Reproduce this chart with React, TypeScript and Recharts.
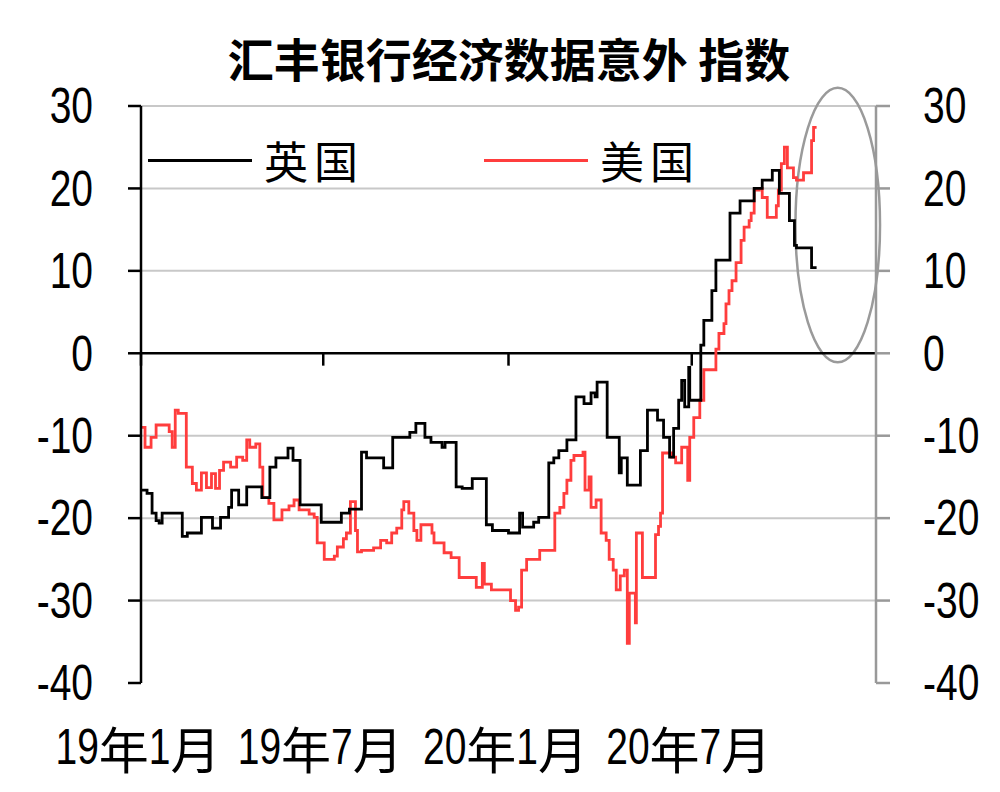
import { LineChart, Line, XAxis, YAxis, CartesianGrid, ReferenceLine, ReferenceArea } from "recharts";

// x values are days counted from 2019-01-01
const tickDays = [0, 181, 365, 547];
const tickLabels = ["19年1月", "19年7月", "20年1月", "20年7月"];
const yTicks = [30, 20, 10, 0, -10, -20, -30, -40];
const gridValues = [30, 20, 10, -10, -20, -30];
const seriesNames = ["英国", "美国"];
const seriesColors = ["#000000", "#ff3d3d"];

// [day, index value], step changes
const ukSteps: [number, number][] = [
  [1, -16.6], [6, -17.0], [11, -19.4], [15, -20.3], [18, -20.6], [21, -19.4], [41, -22.2], [46, -21.8],
  [60, -19.9], [71, -21.2], [79, -19.9], [87, -18.7], [90, -16.6], [97, -18.4], [105, -16.2], [120, -17.5],
  [128, -13.8], [134, -12.7], [146, -11.5], [151, -13.0], [158, -18.4], [179, -20.5], [199, -19.4], [207, -18.9],
  [219, -12.0], [224, -12.7], [241, -13.9], [250, -10.2], [267, -9.6], [273, -8.5], [282, -10.2], [288, -10.8],
  [299, -11.4], [302, -10.8], [313, -16.2], [319, -16.4], [329, -15.2], [343, -20.8], [349, -21.5], [365, -21.8],
  [376, -19.4], [379, -21.1], [390, -20.5], [395, -19.9], [405, -13.3], [410, -12.7], [415, -11.8], [423, -10.5],
  [432, -5.3], [440, -6.1], [447, -4.8], [451, -5.3], [453, -3.5], [463, -10.2], [475, -14.5], [477, -12.7],
  [483, -16.0], [496, -11.8], [503, -6.9], [513, -8.1], [519, -10.2], [525, -12.6], [529, -9.1], [534, -5.7],
  [537, -3.3], [540, -6.5], [544, -1.7], [545, -5.7], [556, 1.0], [559, 4.0], [567, 7.6], [571, 11.3],
  [585, 17.0], [595, 18.5], [609, 20.0], [617, 21.0], [627, 22.2], [634, 19.4], [644, 16.1], [649, 13.1],
  [651, 12.8], [666, 10.4], [671, 10.4],
];

const usSteps: [number, number][] = [
  [1, -9.0], [4, -11.4], [10, -10.2], [15, -8.7], [28, -9.5], [31, -11.4], [34, -6.9], [37, -7.3],
  [45, -13.8], [51, -15.8], [55, -16.6], [60, -14.5], [65, -16.3], [70, -14.6], [74, -16.4], [78, -14.2],
  [82, -13.2], [89, -13.8], [95, -12.6], [101, -13.0], [105, -10.5], [108, -11.4], [114, -11.0], [118, -13.8],
  [121, -17.5], [127, -18.2], [132, -20.2], [140, -19.0], [147, -18.5], [152, -17.8], [157, -19.0], [167, -19.5],
  [172, -19.9], [175, -23.0], [182, -25.0], [192, -24.6], [195, -23.5], [201, -22.5], [204, -21.8], [208, -18.0],
  [213, -21.5], [215, -24.1], [219, -23.9], [231, -23.6], [238, -22.7], [244, -23.0], [249, -21.8], [254, -21.2],
  [259, -19.0], [261, -18.0], [266, -19.4], [271, -21.5], [274, -22.7], [278, -20.8], [289, -21.8], [291, -23.0],
  [301, -24.2], [308, -24.8], [316, -27.2], [333, -28.4], [339, -25.5], [341, -28.0], [348, -28.7], [367, -30.0],
  [372, -31.2], [375, -30.8], [378, -26.3], [383, -25.0], [396, -23.9], [411, -19.4], [416, -18.7], [420, -17.0],
  [423, -15.4], [427, -13.0], [430, -12.4], [439, -12.0], [441, -16.6], [445, -15.0], [447, -18.7], [452, -17.8],
  [457, -21.8], [462, -22.7], [465, -25.0], [469, -26.3], [472, -28.7], [476, -27.0], [480, -26.3], [483, -35.2],
  [485, -29.1], [491, -32.7], [492, -21.8], [498, -27.2], [511, -22.0], [514, -21.0], [516, -19.4], [518, -12.1],
  [527, -12.6], [531, -13.3], [537, -11.4], [543, -15.4], [545, -10.2], [549, -7.8], [555, -5.7], [559, -2.0],
  [571, 0.5], [574, 2.4], [579, 3.6], [581, 6.0], [584, 7.6], [587, 8.8], [591, 11.0], [596, 13.7],
  [599, 15.3], [604, 16.1], [606, 17.0], [609, 19.8], [614, 20.0], [617, 18.9], [622, 16.5], [631, 17.9],
  [633, 19.8], [636, 23.0], [639, 25.0], [642, 22.5], [648, 21.3], [651, 21.0], [658, 21.9], [666, 25.8],
  [668, 27.4], [671, 27.4],
];

const ukData = ukSteps.map(([d, v]) => ({ d, v }));
const usData = usSteps.map(([d, v]) => ({ d, v }));

const latinFont = '"Liberation Sans", Arial, sans-serif';
const cjkFont = '"Noto Sans CJK SC", sans-serif';
const NARROW = 0.78;

const isCjk = (c: string) => c.charCodeAt(0) > 0x2e80;
const charWidth = (c: string, size: number) =>
  isCjk(c) ? size : (c === "-" ? 0.333 : 0.556) * size * NARROW;

// narrow latin digits next to full-width CJK, like the original Excel labels
function NarrowText({ x, y, text, size, anchor }: { x: number; y: number; text: string; size: number; anchor: string }) {
  const chars = [...text];
  const widths = chars.map((c) => charWidth(c, size));
  const total = widths.reduce((a, b) => a + b, 0);
  let cx = anchor === "end" ? x - total : anchor === "middle" ? x - total / 2 : x;
  return (
    <g>
      {chars.map((c, i) => {
        const el = (
          <text key={i} transform={`translate(${cx},${y}) scale(${isCjk(c) ? 1 : NARROW},1)`}
            fontSize={size} fontFamily={isCjk(c) ? cjkFont : latinFont} dominantBaseline="central" fill="#000">
            {c}
          </text>
        );
        cx += widths[i];
        return el;
      })}
    </g>
  );
}

function XTick(props: any) {
  const { x, y, payload } = props;
  const i = tickDays.indexOf(payload.value);
  return <NarrowText x={x - 3} y={y + 64} text={tickLabels[i]} size={50} anchor="middle" />;
}

function YTick(props: any) {
  const { x, y, payload, textAnchor } = props;
  return <NarrowText x={x} y={y} text={String(payload.value)} size={50} anchor={textAnchor} />;
}

function EllipseShape(props: any) {
  const { x, y, width, height } = props;
  return (
    <ellipse cx={x + width / 2} cy={y + height / 2} rx={width / 2} ry={height / 2}
      fill="none" stroke="#9a9a9a" strokeWidth={2.5} />
  );
}

export default function App() {
  return (
    <div style={{ position: "relative", width: 1000, height: 792, background: "#fff" }}>
      <style>{"body{margin:0}"}</style>
      <div style={{ position: "absolute", top: 26, left: 0, width: 1000, textAlign: "center", fontFamily: cjkFont, fontWeight: 700, fontSize: 46, lineHeight: "62px", paddingLeft: 18, boxSizing: "border-box" }}>
        汇丰银行经济数据意外 指数
      </div>
      <LineChart width={1000} height={792} margin={{ top: 106, right: 0, bottom: 0, left: 0 }}>
        <CartesianGrid yAxisId="left" vertical={false} horizontalValues={gridValues} stroke="#c8c8c8" strokeWidth={2} />
        <XAxis dataKey="d" type="number" domain={[0, 730]} ticks={tickDays} height={109}
          axisLine={false} tickLine={false} tickSize={0} tickMargin={0} tick={<XTick />} allowDataOverflow />
        <YAxis yAxisId="left" orientation="left" width={141} domain={[-40, 30]} ticks={yTicks}
          axisLine={{ stroke: "#000", strokeWidth: 2.5 }} tickLine={{ stroke: "#000", strokeWidth: 2.5 }}
          tickSize={13} tickMargin={35} tick={<YTick />} />
        <YAxis yAxisId="right" orientation="right" width={124} domain={[-40, 30]} ticks={yTicks}
          axisLine={{ stroke: "#999", strokeWidth: 2.5 }} tickLine={{ stroke: "#999", strokeWidth: 2.5 }}
          tickSize={14} tickMargin={33} tick={<YTick />} />
        <ReferenceLine yAxisId="left" y={0} stroke="#000" strokeWidth={2.5} />
        {tickDays.map((d) => (
          <ReferenceLine key={d} yAxisId="left" segment={[{ x: d, y: 0 }, { x: d, y: -1.5 }]} stroke="#000" strokeWidth={2.5} ifOverflow="visible" />
        ))}
        <Line yAxisId="right" data={usData} dataKey="v" stroke="none" dot={false} activeDot={false} isAnimationActive={false} />
        <Line yAxisId="left" data={usData} dataKey="v" type="stepAfter" stroke={seriesColors[1]} strokeWidth={2.8}
          dot={false} isAnimationActive={false} name={seriesNames[1]} />
        <Line yAxisId="left" data={ukData} dataKey="v" type="stepAfter" stroke={seriesColors[0]} strokeWidth={2.8}
          dot={false} isAnimationActive={false} name={seriesNames[0]} />
        <ReferenceArea yAxisId="left" x1={650} x2={734} y1={-1.1} y2={32.2} ifOverflow="visible" shape={<EllipseShape />} />
      </LineChart>
      <div style={{ position: "absolute", top: 128, left: 148, display: "flex", alignItems: "center", fontFamily: cjkFont, fontSize: 44, letterSpacing: 6, color: "#000" }}>
        {seriesNames.map((name, i) => (
          <div key={name} style={{ display: "flex", alignItems: "center", marginRight: i === 0 ? 120 : 0 }}>
            <div style={{ width: 104, height: 3, background: seriesColors[i], marginRight: 12 }} />
            <span>{name}</span>
          </div>
        ))}
      </div>
    </div>
  );
}
